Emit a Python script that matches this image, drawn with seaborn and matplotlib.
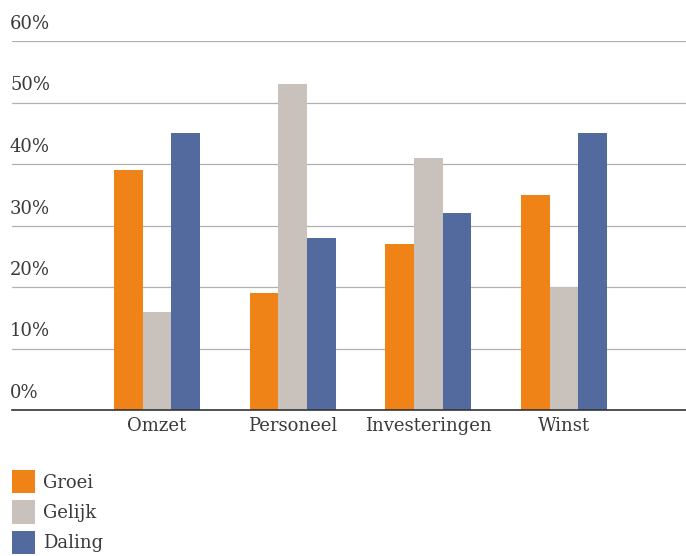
import pandas as pd
import seaborn as sns
import matplotlib.pyplot as plt
from matplotlib.patches import Patch
from matplotlib.transforms import blended_transform_factory, offset_copy

categories = ["Omzet", "Personeel", "Investeringen", "Winst"]
series = ["Groei", "Gelijk", "Daling"]
groei = [39, 19, 27, 35]
gelijk = [16, 53, 41, 20]
daling = [45, 28, 32, 45]
y_ticks = [0, 10, 20, 30, 40, 50, 60]
y_labels = ["0%", "10%", "20%", "30%", "40%", "50%", "60%"]

colors = ["#EF8317", "#C9C2BC", "#536A9E"]
text_color = "#3a3a3a"

rows = []
for name, vals in zip(series, [groei, gelijk, daling]):
    for cat, v in zip(categories, vals):
        rows.append({"Categorie": cat, "Reeks": name, "Waarde": v})
df = pd.DataFrame(rows)

sns.set_theme(style="white")
plt.rcParams["font.family"] = ["DejaVu Serif"]

fig = plt.figure(figsize=(6.86, 5.56), dpi=100)
ax = fig.add_axes([12 / 686, 146 / 556, 674 / 686, 369 / 556])

sns.barplot(data=df, x="Categorie", y="Waarde", hue="Reeks",
            order=categories, hue_order=series, palette=colors,
            width=0.633, gap=0, saturation=1, linewidth=0,
            legend=False, ax=ax)

ax.set_xlim(-1.07, 3.9)
ax.set_ylim(0, 60)
ax.set_xlabel("")
ax.set_ylabel("")

for s in ["top", "right", "left"]:
    ax.spines[s].set_visible(False)
ax.spines["bottom"].set_color("#333333")
ax.spines["bottom"].set_linewidth(1.2)

ax.set_yticks(y_ticks)
ax.set_yticklabels([])
ax.tick_params(axis="y", length=0)
ax.yaxis.grid(True, color="#B0B0B0", linewidth=0.9)
ax.set_axisbelow(True)

trans = offset_copy(blended_transform_factory(ax.transAxes, ax.transData),
                    fig=fig, x=-2, y=8, units="dots")
for t, lab in zip(y_ticks, y_labels):
    ax.text(0, t, lab, transform=trans, ha="left", va="bottom",
            fontsize=13, color=text_color, clip_on=False)

ax.tick_params(axis="x", length=0, pad=5, labelsize=13, labelcolor=text_color)

handles = [Patch(facecolor=c, edgecolor="none", label=s) for c, s in zip(colors, series)]
fig.legend(handles=handles, loc="upper left", bbox_to_anchor=(12 / 686, 1 - 470 / 556),
           frameon=False, fontsize=13, labelcolor=text_color,
           handlelength=1.27, handleheight=1.62, handletextpad=0.45,
           labelspacing=0.38, borderaxespad=0, borderpad=0)

fig.savefig("out.png", dpi=100)
